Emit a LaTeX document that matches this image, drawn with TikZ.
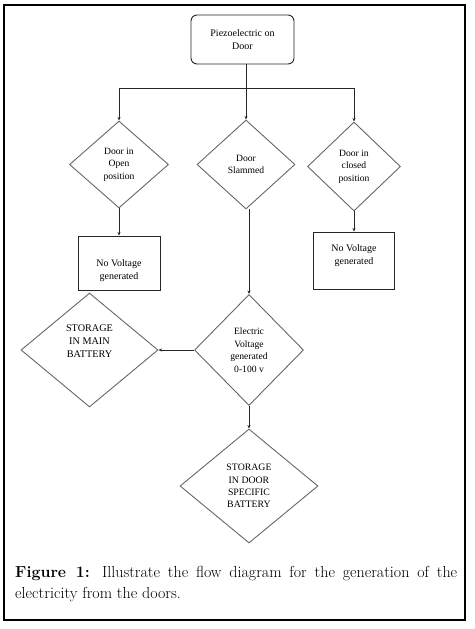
\documentclass[tikz,border=0pt]{standalone}
\usepackage{fontspec}
\newfontfamily\diag{Liberation Serif}
\usetikzlibrary{shapes.geometric,arrows.meta}
\tikzset{
  dia/.style={diamond, draw=black!60, line width=0.9pt, inner sep=0pt, align=center, font=\diag\fontsize{9.6}{12.5}\selectfont},
  boxr/.style={rectangle, draw=black!85, line width=0.9pt, inner sep=0pt},
  txt/.style={align=center, inner sep=0pt, font=\diag\fontsize{10}{13}\selectfont},
  conn/.style={draw=black!85, line width=0.8pt},
  arr/.style={conn, -{Stealth[length=3.5pt,width=3pt]}}
}
\begin{document}
\begin{tikzpicture}[x=1pt,y=-1pt]
\useasboundingbox (0,0) rectangle (474,629);
\draw[line width=1.2pt] (4,5) rectangle (465,620);
% top
\node[boxr, rounded corners=6pt, minimum width=103pt, minimum height=49pt, txt] (top) at (242.5,39.5) {Piezoelectric on\\Door};
% diamonds row
\node[dia, minimum width=99pt, minimum height=87pt] (d1) at (119,164.5) {Door in\\Open\\position};
\node[dia, minimum width=98pt, minimum height=89pt] (d2) at (246,164.5) {Door\\Slammed};
\node[dia, minimum width=93pt, minimum height=89pt] (d3) at (354,166.5) {Door in\\closed\\position};
\coordinate (j) at (246,88);
\draw[conn] (top.south -| d2) -- (j);
\draw[conn] (d1.north |- j) -- (d3.north |- j);
\draw[arr] (d1.north |- j) -- (d1.north);
\draw[arr] (j) -- (d2.north);
\draw[arr] (d3.north |- j) -- (d3.north);
% boxes
\node[boxr, minimum width=82pt, minimum height=54pt] (b1) at (119,263) {};
\node[txt] (b1t) at (119,271) {No Voltage\\generated};
\node[boxr, minimum width=81pt, minimum height=57pt] (b3) at (354,260.5) {};
\node[txt] (b3t) at (354,256) {No Voltage\\generated};
\draw[arr] (d1.south) -- (b1.north);
\draw[arr] (d3.south) -- (b3.north);
% electric
\node[dia, minimum width=109pt, minimum height=111pt] (ev) at (249,350) {Electric\\Voltage\\generated\\0-100 v};
\node[dia, minimum width=137pt, minimum height=114pt, font=\diag\fontsize{10.2}{13}\selectfont] (mb) at (89.5,350) {STORAGE\\IN MAIN\\BATTERY\\[4pt]};
\node[dia, minimum width=138pt, minimum height=114pt, font=\diag\fontsize{9.8}{12.3}\selectfont] (ds) at (249,486) {STORAGE\\IN DOOR\\SPECIFIC\\BATTERY};
\draw[arr] (d2.south -| ev.north) -- (ev.north);
\draw[arr] (ev.west) -- (mb.east);
\draw[arr] (ev.south) -- (ds.north);
% caption
\node[anchor=north west, text width=442pt, align=justify, inner sep=0pt, font=\fontsize{16}{21}\selectfont] (cap) at (15,566) {\textbf{Figure 1:} Illustrate the flow diagram for the generation of the\linebreak electricity from the doors.};
\end{tikzpicture}
\end{document}
